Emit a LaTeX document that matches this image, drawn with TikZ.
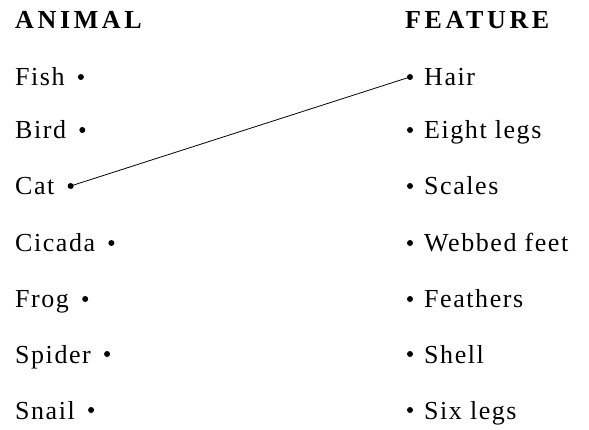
\documentclass[tikz,border=0pt]{standalone}
\usepackage{fontspec}
\setmainfont{Liberation Serif}[LetterSpace=6]
\newfontfamily\headfont{Liberation Serif}[LetterSpace=14]
\usetikzlibrary{positioning}
\tikzset{
	word/.style={inner sep=0pt, anchor=base west},
	head/.style={word, font=\fontsize{26}{31}\selectfont\headfont\bfseries},
	dot/.style={circle, fill=black, inner sep=0pt, minimum size=6pt}
}
\begin{document}
\begin{tikzpicture}[x=1pt, y=-1pt, font=\fontsize{26}{31}\selectfont]
	\useasboundingbox (0,0) rectangle (589,430);
	%headings
	\node[head] (animal) at (15,29) {ANIMAL};
	\node[head] (feature) at (405,29) {FEATURE};
	%animals
	\foreach \i/\y/\txt in {
		1/86/Fish,
		2/139/Bird,
		3/195/Cat,
		4/252/Cicada,
		5/308/Frog,
		6/363/Spider,
		7/419/Snail
	}{
		\node[word] (a\i) at (15,\y) {\txt};
		\node[dot] (ad\i) at ([xshift=16pt, yshift=9pt]a\i.base east) {};
	}
	%features
	\foreach \i/\y/\txt in {
		1/86/Hair,
		2/139/Eight legs,
		3/195/Scales,
		4/252/Webbed feet,
		5/308/Feathers,
		6/363/Shell,
		7/419/Six legs
	}{
		\node[word] (f\i) at (424,\y) {\txt};
		\node[dot] (fd\i) at ([xshift=-14pt, yshift=9pt]f\i.base west) {};
	}
	%match
	\draw[line width=0.8pt] (ad3.center) -- (fd1.center);
\end{tikzpicture}
\end{document}
